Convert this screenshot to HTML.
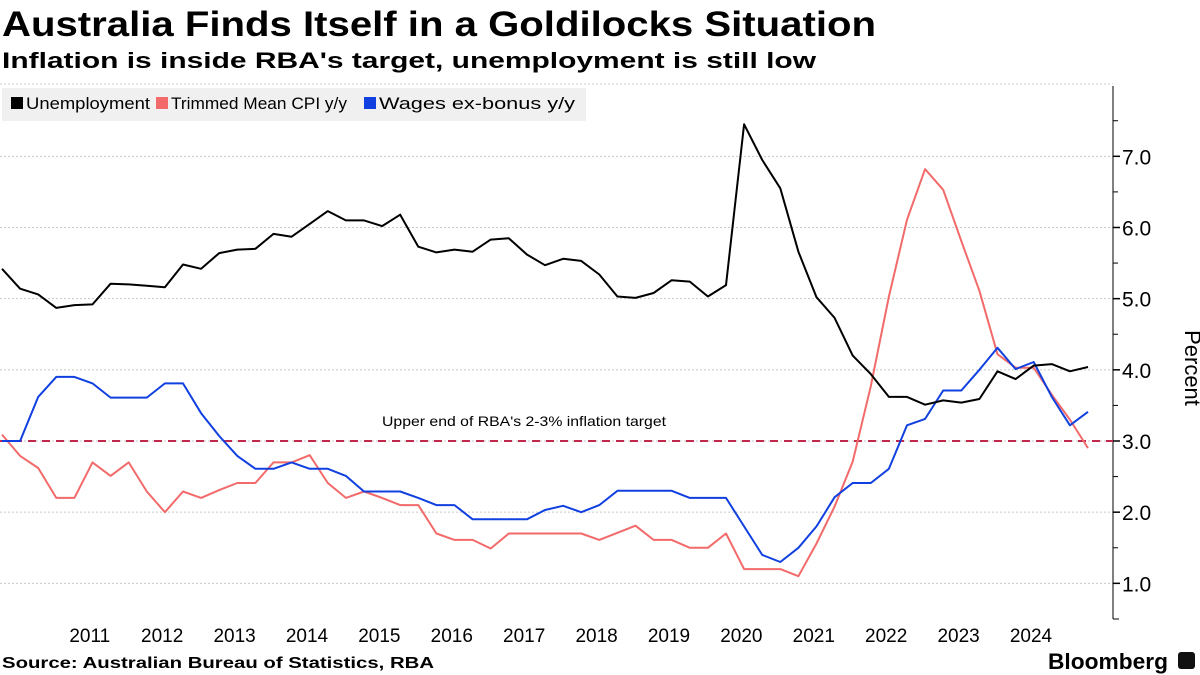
<!DOCTYPE html>
<html><head><meta charset="utf-8"><style>
html,body{margin:0;padding:0;background:#fff;}
svg{display:block;font-family:"Liberation Sans","DejaVu Sans",sans-serif;}
</style></head><body>
<svg id="chart" width="1200" height="675" viewBox="0 0 1200 675">
<text x="2" y="36" font-size="35" font-weight="bold" textLength="874" lengthAdjust="spacingAndGlyphs">Australia Finds Itself in a Goldilocks Situation</text>
<text x="2" y="68" font-size="22" font-weight="bold" textLength="814" lengthAdjust="spacingAndGlyphs">Inflation is inside RBA's target, unemployment is still low</text>
<line x1="0" y1="84" x2="1113" y2="84" stroke="#ccc" stroke-dasharray="2,2"/>
<g>
<rect x="2" y="88" width="584" height="33" fill="#f0f0f0"/>
<g><rect x="11" y="97" width="12" height="12" fill="#000"/><text x="26" y="109" font-size="17" textLength="124" lengthAdjust="spacingAndGlyphs">Unemployment</text></g>
<g><rect x="156" y="97" width="12" height="12" fill="#f26a6a"/><text x="171" y="109" font-size="17" textLength="176" lengthAdjust="spacingAndGlyphs">Trimmed Mean CPI y/y</text></g>
<g><rect x="364" y="97" width="12" height="12" fill="#1140e0"/><text x="379" y="109" font-size="17" textLength="196" lengthAdjust="spacingAndGlyphs">Wages ex-bonus y/y</text></g>
</g>
<g id="grid"></g>
<g id="axes"></g>
<g id="series"></g>
<text x="1185" y="368" font-size="22" text-anchor="middle" transform="rotate(90 1185 368)">Percent</text>
<text x="2" y="668" font-size="16" font-weight="bold" textLength="432" lengthAdjust="spacingAndGlyphs">Source: Australian Bureau of Statistics, RBA</text>
<text x="1048" y="669" font-size="22" font-weight="bold" textLength="120" lengthAdjust="spacingAndGlyphs">Bloomberg</text>
<rect x="1178" y="652" width="17" height="17" rx="3" fill="#111"/>
</svg>
<script>
const yTicks=[1.0,2.0,3.0,4.0,5.0,6.0,7.0];
const yearLabels=["2011","2012","2013","2014","2015","2016","2017","2018","2019","2020","2021","2022","2023","2024"];
const unemployment=[5.42,5.14,5.06,4.87,4.91,4.92,5.21,5.20,5.18,5.16,5.48,5.42,5.64,5.69,5.70,5.91,5.87,6.05,6.23,6.10,6.10,6.02,6.18,5.73,5.65,5.69,5.66,5.83,5.85,5.62,5.47,5.56,5.53,5.34,5.03,5.01,5.08,5.26,5.24,5.03,5.19,7.45,6.95,6.55,5.66,5.02,4.73,4.20,3.94,3.62,3.62,3.51,3.57,3.54,3.59,3.98,3.87,4.06,4.08,3.98,4.04];
const cpi=[3.09,2.79,2.62,2.20,2.20,2.70,2.51,2.70,2.29,2.00,2.29,2.20,2.31,2.41,2.41,2.70,2.70,2.80,2.41,2.20,2.29,2.20,2.10,2.10,1.70,1.61,1.61,1.49,1.70,1.70,1.70,1.70,1.70,1.61,1.71,1.81,1.61,1.61,1.50,1.50,1.70,1.20,1.20,1.20,1.10,1.56,2.08,2.71,3.77,5.03,6.11,6.82,6.53,5.81,5.11,4.22,4.03,4.03,3.65,3.30,2.90];
const wages=[3.0,3.0,3.62,3.90,3.90,3.81,3.61,3.61,3.61,3.81,3.81,3.39,3.07,2.79,2.61,2.61,2.70,2.61,2.61,2.51,2.29,2.29,2.29,2.20,2.10,2.10,1.90,1.90,1.90,1.90,2.03,2.09,2.0,2.10,2.30,2.30,2.30,2.30,2.20,2.20,2.20,1.80,1.40,1.30,1.50,1.80,2.21,2.41,2.41,2.61,3.22,3.31,3.71,3.71,4.00,4.31,4.01,4.11,3.62,3.22,3.41];
const targetValue=3.0;
const NS='http://www.w3.org/2000/svg';
function xS(i){return 2+i*18.1;}
function yS(v){return 441-(v-3)*71.17;}
function el(tag,attrs,parent){const e=document.createElementNS(NS,tag);for(const k in attrs)e.setAttribute(k,attrs[k]);parent.appendChild(e);return e;}
const grid=document.getElementById('grid'),axes=document.getElementById('axes'),series=document.getElementById('series');
yTicks.forEach(v=>{
  const g=el('line',{x1:0,x2:1113,y1:yS(v),y2:yS(v),stroke:'#c8c8c8','stroke-dasharray':'2,2'},grid);
  
  
  const t=el('line',{x1:1113,x2:1120,y1:yS(v),y2:yS(v),stroke:'#000','stroke-width':1.5},axes);
  
  
  const m=el('line',{x1:1113,x2:1118,y1:yS(v+0.5),y2:yS(v+0.5),stroke:'#000'},axes);
  
  
  const l=el('text',{x:1122,y:yS(v)+8,'font-size':21},axes);
  l.textContent=v.toFixed(1);
  
  
});
const ax=el('line',{x1:1113,x2:1113,y1:86,y2:619,stroke:'#000'},axes);


const bt=el('line',{x1:1113,x2:1119,y1:619,y2:619,stroke:'#000'},axes);


yearLabels.forEach((y,k)=>{
  const t=el('text',{x:xS(4.85+k*4),y:642,'font-size':19,'text-anchor':'middle'},axes);
  t.textContent=y;
  
  
});
const tl=el('line',{x1:0,x2:1113,y1:yS(targetValue),y2:yS(targetValue),stroke:'#c0284e','stroke-width':2,'stroke-dasharray':'8,6'},series);


const ta=el('text',{x:382,y:yS(targetValue)-15,'font-size':14,textLength:284,lengthAdjust:'spacingAndGlyphs'},series);
ta.textContent="Upper end of RBA's 2-3% inflation target";


function line(data,color,name){
  const p=el('polyline',{points:data.map((v,i)=>xS(i).toFixed(1)+','+yS(v).toFixed(1)).join(' '),fill:'none',stroke:color,'stroke-width':2,'stroke-linejoin':'round'},series);
  
  
}
line(cpi,'#f26a6a','cpi-line');
line(wages,'#1140e0','wages-line');
line(unemployment,'#000','unemployment-line');
</script>
</body></html>
